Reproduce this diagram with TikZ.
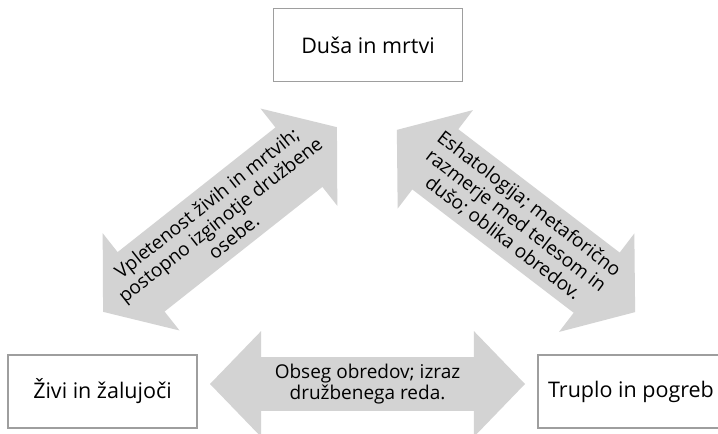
\documentclass[tikz,border=0pt]{standalone}
\usepackage{fontspec}
\setmainfont{Open Sans}
\usepackage{xcolor}
\usepackage{tikz}
\usetikzlibrary{shapes.arrows,positioning}
\definecolor{boxgray}{HTML}{9E9E9E}
\definecolor{arrowgray}{HTML}{D3D3D3}

\begin{document}
\begin{tikzpicture}[
    x=1pt, y=-1pt,
    box/.style={draw=boxgray, line width=1.5pt, minimum width=189pt, minimum height=73pt, font=\fontsize{21.5}{26}\selectfont},
    link/.style={double arrow, fill=arrowgray, inner sep=0pt, align=center, font=\fontsize{19}{21.5}\selectfont},
    tag/.style={inner sep=0pt, align=center, font=\fontsize{19}{21.5}\selectfont},
]
\useasboundingbox (0,0) rectangle (718,434);
% Boxes
\node[box] (soul) at (368,45) {Duša in mrtvi};
\node[box] (living) at (102.5,391.5) {Živi in žalujoči};
\node[box, minimum width=186pt] (body) at (631,391.5) {Truplo in pogreb};

% Arrows
\node[link, minimum height=315pt, minimum width=106pt, double arrow head extend=20pt, double arrow tip angle=92] (order) at (367.5,384) {Obseg obredov; izraz\\družbenega reda.};
\node[link, rotate=38.3, inner ysep=37.5pt, minimum height=298pt, minimum width=124pt, double arrow head extend=24pt, double arrow tip angle=104] (bond) at (220,219.5) {};
\node[link, rotate=-37.4, inner ysep=37.5pt, minimum height=300pt, minimum width=124pt, double arrow head extend=24pt, double arrow tip angle=104] (fate) at (516,221) {};

% Arrow texts
\node[tag, rotate=38.3] (bondtext) at (bond) {Vpletenost živih in mrtvih;\\postopno izginotje družbene\\osebe.};
\node[tag, rotate=-37.4] (fatetext) at (fate) {Eshatologija; metaforično\\razmerje med telesom in\\dušo; oblika obredov.};
\end{tikzpicture}
\end{document}
